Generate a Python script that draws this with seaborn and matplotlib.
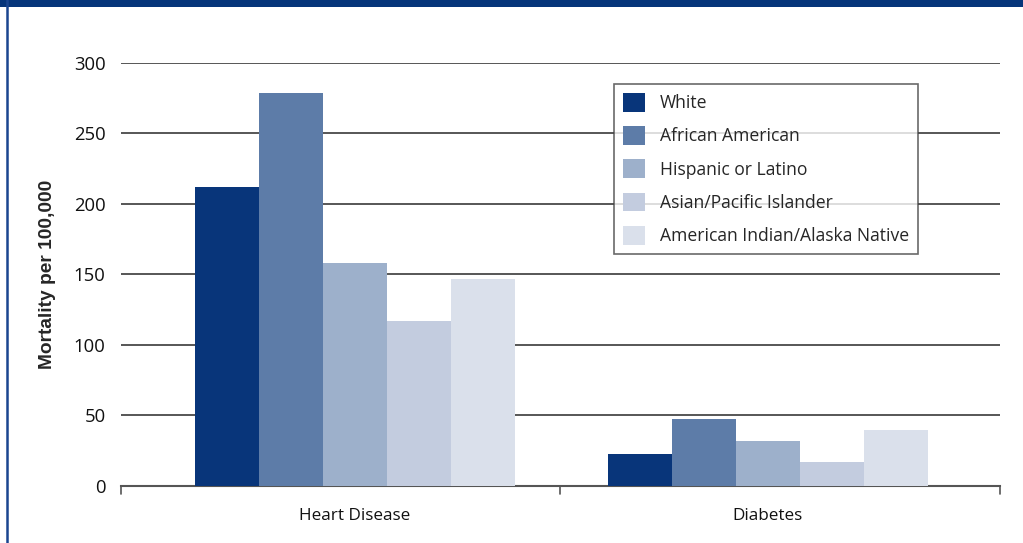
import matplotlib
matplotlib.use("Agg")
import matplotlib.pyplot as plt
from matplotlib.patches import Rectangle
from matplotlib.lines import Line2D
import seaborn as sns
import pandas as pd

# Age-adjusted mortality rates by race/ethnicity
causes = ["Heart Disease", "Diabetes"]
groups = ["White", "African American", "Hispanic or Latino",
          "Asian/Pacific Islander", "American Indian/Alaska Native"]
heart_disease = [212, 279, 158, 117, 147]
diabetes = [22.5, 47.5, 32, 17, 39.5]
y_ticks = [0, 50, 100, 150, 200, 250, 300]

colors = ["#08357a", "#5d7ca8", "#9db0cb", "#c3ccdf", "#dae0eb"]

df = pd.DataFrame({
    "cause": [causes[0]] * len(groups) + [causes[1]] * len(groups),
    "group": groups * 2,
    "rate": heart_disease + diabetes,
})

sns.set_theme(style="white")
plt.rcParams["font.family"] = ["Open Sans", "DejaVu Sans"]

fig = plt.figure(figsize=(10.23, 5.43), dpi=100)
ax = fig.add_axes([0.1183, 0.105, 0.8592, 0.779])

sns.barplot(data=df, x="cause", y="rate", hue="group", hue_order=groups,
            order=causes, palette=colors, width=0.775, saturation=1,
            edgecolor="none", linewidth=0, ax=ax, legend=False, zorder=3)

ax.set_xlim(-0.567, 1.562)
ax.set_ylim(0, 300)
ax.set_yticks(y_ticks)
ax.set_yticklabels([str(v) for v in y_ticks], fontsize=13.3, color="#111111")
ax.tick_params(axis="y", length=0, pad=11)
ax.tick_params(axis="x", length=0, pad=16, labelsize=12.3, labelcolor="#111111")
ax.set_xlabel("")
ax.set_ylabel("Mortality per 100,000", fontsize=13.8, fontweight="bold",
              family=["Liberation Sans", "DejaVu Sans"], labelpad=13)

for v in y_ticks[1:]:
    ax.axhline(v, color="#3a3a3a", linewidth=1.2, zorder=1)

for side in ["top", "right", "left"]:
    ax.spines[side].set_visible(False)
ax.spines["bottom"].set_color("#555555")
ax.spines["bottom"].set_linewidth(1.5)

# category boundary ticks under the baseline
for xb in [-0.567, 0.496, 1.562]:
    ax.plot([xb, xb], [0, -6], color="#555555", linewidth=1.2,
            clip_on=False, zorder=4)

handles = [Rectangle((0, 0), 1, 1, facecolor=c, edgecolor="none") for c in colors]
leg = ax.legend(handles, groups, loc="upper left",
                bbox_to_anchor=(0.561, 0.95), frameon=True, fancybox=False,
                fontsize=12.65, handlelength=1.25, handleheight=1.25,
                handletextpad=0.85, labelspacing=0.8, borderpad=0.5,
                borderaxespad=0)
leg.get_frame().set_edgecolor("#444444")
leg.get_frame().set_linewidth(1.2)
leg.set_zorder(5)

# page frame: dark band across the top and a rule along the left edge
fig.patches.append(Rectangle((0, 1 - 7 / 543), 1, 7 / 543,
                             transform=fig.transFigure, facecolor="#06357a",
                             edgecolor="none"))
fig.lines.append(Line2D([7 / 1023, 7 / 1023], [0, 1], transform=fig.transFigure,
                        color="#1a4590", linewidth=1.8))

fig.savefig("out.png", dpi=100)
